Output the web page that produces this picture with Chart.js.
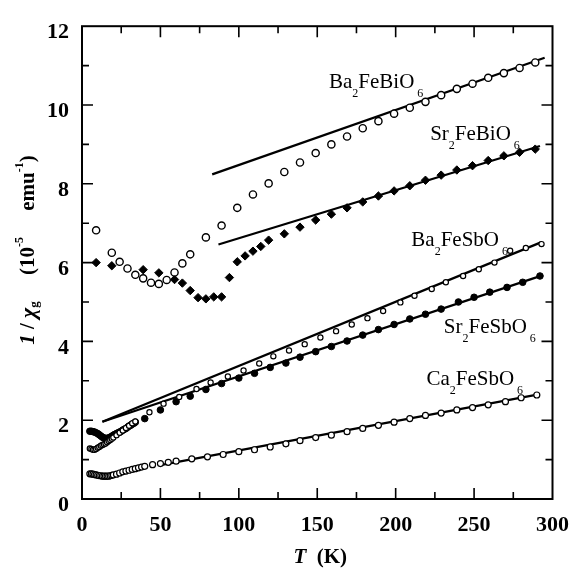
<!DOCTYPE html>
<html>
<head>
<meta charset="utf-8">
<script src="https://cdn.jsdelivr.net/npm/chart.js@4.4.0/dist/chart.umd.min.js"></script>
<style>
html, body { margin: 0; padding: 0; background: #fff; }
</style>
</head>
<body>
<canvas id="myChart" width="582" height="570"></canvas>
<script>
// Ba2FeBiO6 (open circles)
const baBiT = [9, 19, 24, 29, 34, 39, 44, 49, 54, 59, 64, 69, 79, 89, 99, 109, 119, 129, 139, 149, 159, 169, 179, 189, 199, 209, 219, 229, 239, 249, 259, 269, 279, 289];
const baBiY = [6.82, 6.25, 6.02, 5.85, 5.69, 5.60, 5.49, 5.46, 5.56, 5.75, 5.98, 6.21, 6.64, 6.94, 7.39, 7.73, 8.01, 8.30, 8.54, 8.78, 9.00, 9.20, 9.41, 9.59, 9.78, 9.93, 10.08, 10.25, 10.41, 10.54, 10.69, 10.81, 10.94, 11.08];

// Sr2FeBiO6 (filled diamonds)
const srBiT = [9, 19, 39, 49, 59, 64, 69, 74, 79, 84, 89, 94, 99, 104, 109, 114, 119, 129, 139, 149, 159, 169, 179, 189, 199, 209, 219, 229, 239, 249, 259, 269, 279, 289];
const srBiY = [6.00, 5.92, 5.82, 5.74, 5.57, 5.48, 5.29, 5.11, 5.08, 5.13, 5.13, 5.62, 6.02, 6.17, 6.29, 6.41, 6.57, 6.73, 6.90, 7.08, 7.23, 7.39, 7.54, 7.69, 7.82, 7.95, 8.09, 8.22, 8.35, 8.46, 8.59, 8.71, 8.80, 8.88];

// Ba2FeSbO6 (small open circles)
const baSbT = [5, 6, 7, 8, 9, 10, 11, 12, 13, 14, 15, 16, 17, 18, 19, 20, 22, 24, 26, 28, 30, 32, 34, 43, 52, 62, 73, 82, 93, 103, 113, 122, 132, 142, 152, 162, 172, 182, 192, 203, 212, 223, 232, 243, 253, 263, 273, 283, 293];
const baSbY = [1.28, 1.27, 1.25, 1.25, 1.27, 1.30, 1.32, 1.35, 1.37, 1.39, 1.41, 1.44, 1.47, 1.50, 1.53, 1.56, 1.62, 1.68, 1.74, 1.80, 1.86, 1.92, 1.97, 2.20, 2.42, 2.59, 2.79, 2.96, 3.11, 3.26, 3.44, 3.62, 3.77, 3.93, 4.10, 4.26, 4.43, 4.59, 4.77, 4.99, 5.16, 5.33, 5.50, 5.66, 5.83, 6.00, 6.30, 6.37, 6.47];

// Sr2FeSbO6 (filled circles)
const srSbT = [5, 6, 7, 8, 9, 10, 11, 12, 13, 14, 15, 16, 17, 18, 19, 20, 21, 22, 23, 24, 25, 26, 27, 28, 29, 30, 31, 32, 33, 34, 40, 50, 60, 69, 79, 89, 100, 110, 120, 130, 139, 149, 159, 169, 179, 189, 199, 209, 219, 229, 240, 250, 260, 271, 281, 292];
const srSbY = [1.72, 1.72, 1.71, 1.70, 1.68, 1.66, 1.63, 1.60, 1.57, 1.55, 1.54, 1.54, 1.55, 1.57, 1.59, 1.62, 1.64, 1.66, 1.68, 1.70, 1.72, 1.75, 1.77, 1.79, 1.82, 1.85, 1.87, 1.90, 1.92, 1.95, 2.04, 2.26, 2.47, 2.61, 2.78, 2.93, 3.07, 3.19, 3.34, 3.45, 3.60, 3.74, 3.87, 4.01, 4.16, 4.30, 4.43, 4.57, 4.69, 4.82, 5.00, 5.12, 5.25, 5.37, 5.50, 5.66];

// Ca2FeSbO6 (open circles)
const caSbT = [5, 6, 7, 8, 9, 10, 11, 12, 13, 14, 15, 16, 17, 18, 19, 20, 22, 24, 26, 28, 30, 32, 34, 36, 38, 40, 45, 50, 55, 60, 70, 80, 90, 100, 110, 120, 130, 139, 149, 159, 169, 179, 189, 199, 209, 219, 229, 239, 249, 259, 270, 280, 290];
const caSbY = [0.64, 0.64, 0.63, 0.62, 0.61, 0.60, 0.59, 0.59, 0.58, 0.58, 0.58, 0.58, 0.58, 0.59, 0.60, 0.61, 0.63, 0.66, 0.69, 0.71, 0.73, 0.75, 0.77, 0.79, 0.81, 0.83, 0.87, 0.90, 0.93, 0.96, 1.02, 1.07, 1.13, 1.20, 1.25, 1.32, 1.40, 1.48, 1.56, 1.62, 1.71, 1.79, 1.87, 1.95, 2.04, 2.12, 2.18, 2.26, 2.32, 2.39, 2.47, 2.57, 2.64];

// Curie-Weiss fit lines: [T start, T end], [y start, y end]
const fitBaBiT = [83, 295];  const fitBaBiY = [8.24, 11.20];
const fitSrBiT = [87, 292];  const fitSrBiY = [6.46, 8.96];
const fitBaSbT = [13, 293];  const fitBaSbY = [1.96, 6.52];
const fitSrSbT = [13, 294];  const fitSrSbY = [1.96, 5.68];
const fitCaSbT = [50, 292];  const fitCaSbY = [0.86, 2.66];

const xTicks = [0, 50, 100, 150, 200, 250, 300];
const yTicks = [0, 2, 4, 6, 8, 10, 12];

// compound labels: [text, subscript?], anchor in data units
const compoundLabels = [
    { parts: [["Ba", 0], ["2", 1], ["FeBiO", 0], ["6", 1]], T: 157.5, y: 10.43 },
    { parts: [["Sr", 0], ["2", 1], ["FeBiO", 0], ["6", 1]], T: 222, y: 9.10 },
    { parts: [["Ba", 0], ["2", 1], ["FeSbO", 0], ["6", 1]], T: 210, y: 6.42 },
    { parts: [["Sr", 0], ["2", 1], ["FeSbO", 0], ["6", 1]], T: 230.7, y: 4.21 },
    { parts: [["Ca", 0], ["2", 1], ["FeSbO", 0], ["6", 1]], T: 219.6, y: 2.89 }
];

const SERIF = '"Liberation Serif", "Times New Roman", serif';

function toPoints(xs, ys) {
    return xs.map((x, i) => ({ x: x, y: ys[i] }));
}

function pointSet(xs, ys, style, radius, filled, bw) {
    return {
        data: toPoints(xs, ys),
        showLine: false,
        pointStyle: style,
        pointRadius: radius,
        pointBackgroundColor: filled ? '#000' : '#fff',
        pointBorderColor: '#000',
        pointBorderWidth: bw,
        order: 1
    };
}

function fitSet(xs, ys) {
    return {
        data: toPoints(xs, ys),
        showLine: true,
        borderColor: '#000',
        borderWidth: 2.3,
        pointRadius: 0,
        fill: false,
        order: 2
    };
}

// frame, inward ticks, axis titles and compound labels
const decorPlugin = {
    id: 'decor',
    afterDraw(chart) {
        const ctx = chart.ctx;
        const a = chart.chartArea;
        const xs = chart.scales.x, ys = chart.scales.y;
        ctx.save();
        ctx.strokeStyle = '#000';
        ctx.lineWidth = 2;
        ctx.strokeRect(a.left, a.top, a.right - a.left, a.bottom - a.top);
        ctx.lineWidth = 1.6;
        ctx.beginPath();
        for (let t = 25; t < 300; t += 25) {
            const len = t % 50 === 0 ? 11 : 7;
            const px = xs.getPixelForValue(t);
            ctx.moveTo(px, a.bottom); ctx.lineTo(px, a.bottom - len);
            ctx.moveTo(px, a.top); ctx.lineTo(px, a.top + len);
        }
        for (let v = 1; v < 12; v++) {
            const len = v % 2 === 0 ? 11 : 7;
            const py = ys.getPixelForValue(v);
            ctx.moveTo(a.left, py); ctx.lineTo(a.left + len, py);
            ctx.moveTo(a.right, py); ctx.lineTo(a.right - len, py);
        }
        ctx.stroke();

        // compound labels
        ctx.fillStyle = '#000';
        ctx.textBaseline = 'alphabetic';
        ctx.textAlign = 'left';
        compoundLabels.forEach(lb => {
            let x = xs.getPixelForValue(lb.T);
            const y = ys.getPixelForValue(lb.y);
            lb.parts.forEach(p => {
                if (p[1]) {
                    ctx.font = '12px ' + SERIF;
                    if (p[0] === '6') x += 3;
                    ctx.fillText(p[0], x, y + 9);
                } else {
                    ctx.font = '21px ' + SERIF;
                    ctx.fillText(p[0], x, y);
                }
                x += ctx.measureText(p[0]).width;
            });
        });

        // x title
        ctx.textBaseline = 'middle';
        const tFont = 'italic bold 21px ' + SERIF;
        const kFont = 'bold 21px ' + SERIF;
        ctx.font = tFont;
        const w1 = ctx.measureText('T').width;
        ctx.font = kFont;
        const w2 = ctx.measureText('  (K)').width;
        let xx = (a.left + a.right) / 2 + 3 - (w1 + w2) / 2;
        ctx.font = tFont; ctx.fillText('T', xx, 558);
        ctx.font = kFont; ctx.fillText('  (K)', xx + w1, 558);

        // y title, rotated
        const yParts = [
            ['1', 'italic bold 21px', 0],
            [' / ', 'bold 21px', 0],
            ['\u03C7', 'italic bold 22px', 0],
            ['g', 'bold 13px', 6],
            ['     (10', 'bold 21px', 0],
            ['-5', 'bold 12px', -9],
            ['     emu', 'bold 21px', 0],
            ['-1', 'bold 12px', -9],
            [')', 'bold 21px', 0]
        ];
        let total = 0;
        yParts.forEach(p => { ctx.font = p[1] + ' ' + SERIF; total += ctx.measureText(p[0]).width; });
        ctx.translate(29, 250);
        ctx.rotate(-Math.PI / 2);
        ctx.textBaseline = 'middle';
        let cx = -total / 2;
        yParts.forEach(p => {
            ctx.font = p[1] + ' ' + SERIF;
            ctx.fillText(p[0], cx, p[2]);
            cx += ctx.measureText(p[0]).width;
        });
        ctx.restore();
    }
};

new Chart("myChart", {
    type: 'scatter',
    data: {
        datasets: [
            pointSet(baBiT, baBiY, 'circle', 3.6, false, 1.4),
            pointSet(srBiT, srBiY, 'rectRot', 4.2, true, 1),
            pointSet(baSbT, baSbY, 'circle', 2.6, false, 1.2),
            pointSet(srSbT, srSbY, 'circle', 3.3, true, 1),
            pointSet(caSbT, caSbY, 'circle', 3.0, false, 1.2),
            fitSet(fitBaBiT, fitBaBiY),
            fitSet(fitSrBiT, fitSrBiY),
            fitSet(fitBaSbT, fitBaSbY),
            fitSet(fitSrSbT, fitSrSbY),
            fitSet(fitCaSbT, fitCaSbY)
        ]
    },
    options: {
        responsive: false,
        animation: false,
        devicePixelRatio: 1,
        layout: { padding: { top: 17, right: 22, left: 0, bottom: 0 } },
        plugins: {
            legend: { display: false },
            title: { display: false },
            tooltip: { enabled: false }
        },
        scales: {
            x: {
                type: 'linear',
                min: 0, max: 300,
                afterFit: s => { s.height = 71; },
                afterBuildTicks: s => { s.ticks = xTicks.map(v => ({ value: v })); },
                grid: { display: false, drawTicks: false },
                border: { display: false },
                ticks: {
                    color: '#000', padding: 13, maxRotation: 0, autoSkip: false,
                    font: { family: SERIF, size: 22, weight: 'bold' }
                }
            },
            y: {
                type: 'linear',
                min: 0, max: 12,
                afterFit: s => { s.width = 82; },
                afterBuildTicks: s => { s.ticks = yTicks.map(v => ({ value: v })); },
                grid: { display: false, drawTicks: false },
                border: { display: false },
                ticks: {
                    color: '#000', padding: 13, labelOffset: 6.5, autoSkip: false,
                    font: { family: SERIF, size: 22, weight: 'bold' }
                }
            }
        }
    },
    plugins: [decorPlugin]
});
</script>
</body>
</html>
